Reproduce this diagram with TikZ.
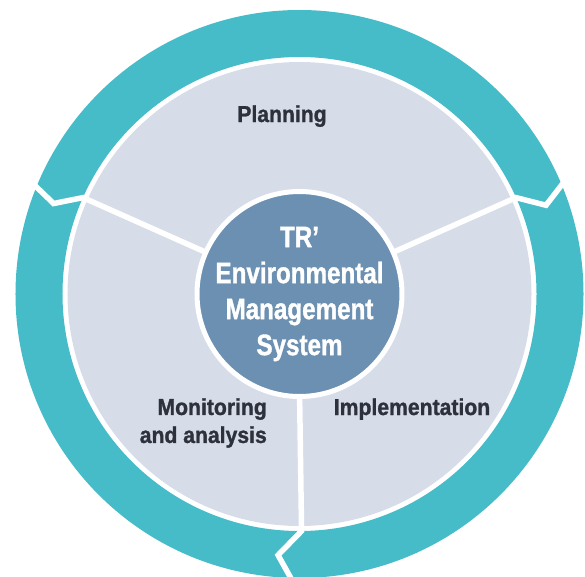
\documentclass[tikz,border=0pt]{standalone}
\usepackage{fontspec}
\newfontfamily\labfont[FakeStretch=0.92,FakeBold=1.2]{Liberation Sans}
\newfontfamily\cenfont[FakeStretch=0.82,FakeBold=1.2]{Liberation Sans}
\definecolor{ringteal}{RGB}{70,188,201}
\definecolor{diskgray}{RGB}{214,220,232}
\definecolor{hubblue}{RGB}{108,144,177}
\definecolor{labtext}{RGB}{44,49,60}
\tikzset{
  gapline/.style={draw=white, line width=5.5pt, line join=miter, line cap=butt},
  lab/.style={font=\labfont\bfseries\fontsize{23}{28}\selectfont, text=labtext, inner sep=0pt},
  hubtextstyle/.style={font=\cenfont\bfseries\fontsize{29.5}{36}\selectfont, text=white, align=center, inner sep=0pt}
}
\begin{document}
\begin{tikzpicture}[x=1pt,y=1pt]
\useasboundingbox (-299.5,-282) rectangle (285.5,294);
% outer ring and disk
\fill[ringteal, even odd rule] (0,0) circle[radius=284pt] (0,0) circle[radius=237pt];
\fill[diskgray] (0,0) circle[radius=232pt];
% named points of the dividers and ring breaks
\coordinate (ls) at (156:95);
\coordinate (li) at (156:237);
\coordinate (lv) at (159.8:262);
\coordinate (lo) at (157:295);
\coordinate (rs) at (24:95);
\coordinate (ri) at (24:237);
\coordinate (rv) at (19.8:262);
\coordinate (ro) at (23.8:295);
\coordinate (bs) at (270:95);
\coordinate (bi) at (270.5:237);
\coordinate (bv) at (265.3:262);
\coordinate (bo) at (269.5:295);
\draw[gapline] (ls) -- (li) -- (lv) -- (lo);
\draw[gapline] (rs) -- (ri) -- (rv) -- (ro);
\draw[gapline] (bs) -- (bi) -- (bv) -- (bo);
% hub
\node[circle, fill=hubblue, draw=white, line width=5pt, minimum size=205pt, inner sep=0pt] (hub) at (0,0) {};
\node[hubtextstyle] (hubtext) at (0,0) {TR’\\Environmental\\Management\\System};
% labels
\node[lab, anchor=base] (plan) at (-17.5,172) {Planning};
\node[lab, anchor=base] (impl) at (112.5,-121) {Implementation};
\node[lab, align=right, anchor=east] (mon) at (-32.5,-129) {Monitoring\\and analysis};
\end{tikzpicture}
\end{document}
